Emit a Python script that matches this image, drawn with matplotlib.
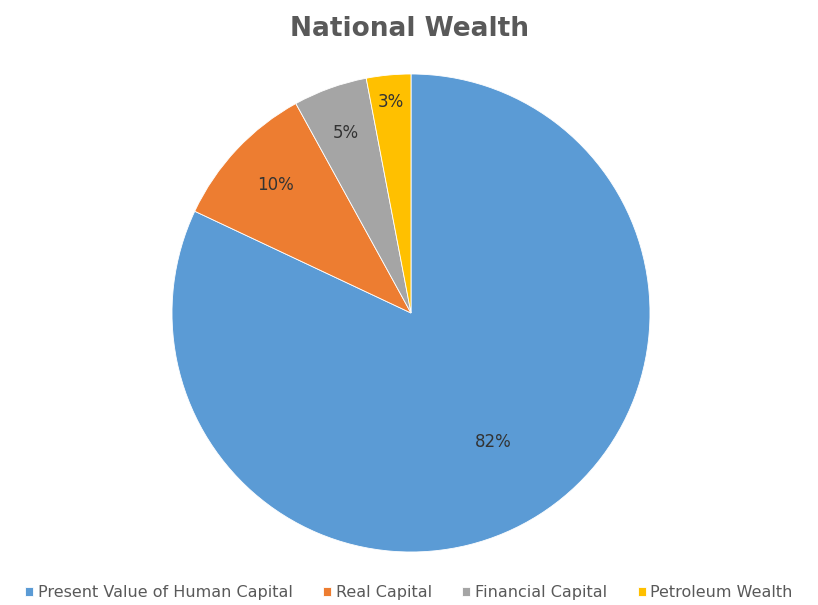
import numpy as np
import matplotlib.pyplot as plt

# data
labels = ["Present Value of Human Capital", "Real Capital", "Financial Capital", "Petroleum Wealth"]
values = [82, 10, 5, 3]
colors = ["#5B9BD5", "#ED7D31", "#A5A5A5", "#FFC000"]
label_dist = [0.64, 0.78, 0.80, 0.885]

fig = plt.figure(figsize=(8.18, 6.05), dpi=100, facecolor="white")

# pie axes, square in pixels
cx, cy, r = 411, 313, 239
ax = fig.add_axes([(cx - r) / 818, (605 - cy - r) / 605, 2 * r / 818, 2 * r / 605])

wedges, _ = ax.pie(
    values,
    colors=colors,
    startangle=90,
    counterclock=False,
    radius=1,
    wedgeprops=dict(edgecolor="white", linewidth=0.6),
)
ax.set_xlim(-1, 1)
ax.set_ylim(-1, 1)
ax.set_aspect("equal")
ax.axis("off")

for w, v, d in zip(wedges, values, label_dist):
    ang = np.deg2rad((w.theta1 + w.theta2) / 2)
    ax.text(d * np.cos(ang), d * np.sin(ang), f"{v}%",
            ha="center", va="center", fontsize=12, color="#333333")

fig.text(0.5, 0.952, "National Wealth", ha="center", va="center",
         fontsize=19, fontweight="bold", color="#595959")

leg = fig.legend(
    wedges, labels,
    loc="center", bbox_to_anchor=(0.5, 0.02),
    ncol=4, frameon=False,
    fontsize=11.5, handlelength=0.5, handleheight=0.5,
    handletextpad=0.3, columnspacing=1.9,
    labelcolor="#595959",
)

fig.savefig("out.png", dpi=100, facecolor="white")
